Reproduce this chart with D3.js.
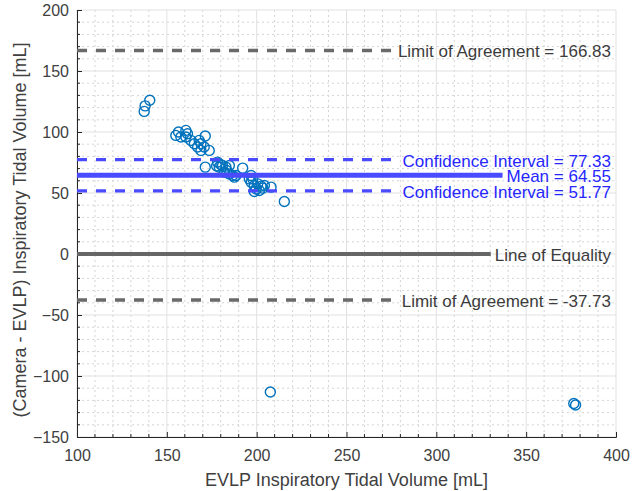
<!DOCTYPE html>
<html>
<head>
<meta charset="utf-8">
<script src="https://cdn.jsdelivr.net/npm/d3@7"></script>
<style>
  body { margin: 0; background: #fff; }
  svg { display: block; }
  text { font-family: "Liberation Sans", Arial, Helvetica, sans-serif; }
</style>
</head>
<body>
<svg id="chart" width="640" height="491"></svg>
<script>
// Bland-Altman style comparison: EVLP volume vs. (Camera - EVLP) difference
const evlpVolume = [
  140.5, 137.9, 137.4,
  155.0, 156.5, 160.6, 160.6, 163.4, 165.3, 168.0, 171.4, 167.1, 169.0, 173.6,
  157.8, 161.5, 169.0, 170.8,
  171.4, 178.2, 180.1, 179.2, 181.0, 182.9, 184.8, 182.0, 184.8, 186.6, 188.5, 192.2,
  177.7, 183.3, 187.6,
  196.9, 197.8, 196.9, 198.7, 200.6, 199.7, 202.5, 204.3, 208.0, 198.7, 195.9, 201.5, 203.4,
  215.4,
  207.6, 376.5, 377.5
];
const volumeDiff = [
  126.0, 121.4, 116.9,
  97.2, 100.0, 101.3, 95.9, 93.1, 90.4, 93.1, 96.7, 87.7, 84.9, 84.9,
  95.9, 98.6, 90.4, 87.7,
  71.2, 75.3, 73.1, 71.2, 72.6, 71.2, 72.6, 67.1, 65.7, 64.3, 64.3, 70.4,
  72.1, 68.4, 63.0,
  64.3, 61.6, 58.9, 56.1, 57.5, 53.4, 55.6, 56.1, 54.8, 51.2, 61.6, 52.0, 54.0,
  43.0,
  -113.1, -122.5, -123.8
];

// Reference lines drawn across the plot with their right-hand labels
const refValues = [166.83, 77.33, 64.55, 51.77, 0, -37.73];
const refLabels = [
  "Limit of Agreement = 166.83",
  "Confidence Interval = 77.33",
  "Mean = 64.55",
  "Confidence Interval = 51.77",
  "Line of Equality",
  "Limit of Agreement = -37.73"
];
const refKinds = ["limit", "ci", "mean", "ci", "equality", "limit"];

const xTickValues = [100, 150, 200, 250, 300, 350, 400];
const yTickValues = [-150, -100, -50, 0, 50, 100, 150, 200];
const xLabel = "EVLP Inspiratory Tidal Volume [mL]";
const yLabel = "(Camera - EVLP) Inspiratory Tidal Volume [mL]";

const kindStyle = {
  limit:    { stroke: "#6a6a6a", width: 3.5, dash: "10,9", text: "#3c3c3c" },
  ci:       { stroke: "#4a4aff", width: 3.3, dash: "10,9", text: "#2626ff" },
  mean:     { stroke: "#4a4aff", width: 5,   dash: null,   text: "#2626ff" },
  equality: { stroke: "#666666", width: 4,   dash: null,   text: "#3c3c3c" }
};

const svg = d3.select("#chart");
const plot = { left: 77, right: 616, top: 10, bottom: 437 };

const x = d3.scaleLinear().domain([100, 400]).range([plot.left, plot.right]);
const y = d3.scaleLinear().domain([-150, 200]).range([plot.bottom, plot.top]);

const xMinor = d3.range(100, 401, 10);
const yMinor = d3.range(-150, 201, 10);

// minor grid (dotted)
const grid = svg.append("g");
grid.selectAll("line.xm").data(xMinor.filter(v => v % 50 !== 0)).join("line")
  .attr("x1", d => x(d)).attr("x2", d => x(d))
  .attr("y1", plot.top).attr("y2", plot.bottom)
  .attr("stroke", "#d4d4d4").attr("stroke-width", 1).attr("stroke-dasharray", "2,3");
grid.selectAll("line.ym").data(yMinor.filter(v => v % 50 !== 0)).join("line")
  .attr("y1", d => y(d)).attr("y2", d => y(d))
  .attr("x1", plot.left).attr("x2", plot.right)
  .attr("stroke", "#d4d4d4").attr("stroke-width", 1).attr("stroke-dasharray", "2,3");

// major grid (solid)
grid.selectAll("line.xM").data(xTickValues).join("line")
  .attr("x1", d => x(d)).attr("x2", d => x(d))
  .attr("y1", plot.top).attr("y2", plot.bottom)
  .attr("stroke", "#e1e1e1").attr("stroke-width", 1);
grid.selectAll("line.yM").data(yTickValues).join("line")
  .attr("y1", d => y(d)).attr("y2", d => y(d))
  .attr("x1", plot.left).attr("x2", plot.right)
  .attr("stroke", "#e1e1e1").attr("stroke-width", 1);

// axes with inward ticks
const axisColor = "#262626";
const xAxis = svg.append("g").attr("transform", `translate(0,${plot.bottom})`)
  .call(d3.axisBottom(x).tickValues(xTickValues).tickSize(-5).tickPadding(13).tickFormat(d3.format("d")));
const yAxis = svg.append("g").attr("transform", `translate(${plot.left},0)`)
  .call(d3.axisLeft(y).tickValues(yTickValues).tickSize(-5).tickPadding(8).tickFormat(d3.format("d")));
[xAxis, yAxis].forEach(g => {
  g.select(".domain").attr("stroke", axisColor).attr("stroke-width", 1);
  g.selectAll(".tick line").attr("stroke", axisColor);
  g.selectAll(".tick text").attr("fill", "#404040").attr("font-size", 16)
    .attr("font-family", "'Liberation Sans', Arial, Helvetica, sans-serif");
});
yAxis.selectAll(".tick text").attr("dy", "0.35em");

// minor tick marks
svg.append("g").selectAll("line").data(xMinor.filter(v => v % 50 !== 0)).join("line")
  .attr("x1", d => x(d)).attr("x2", d => x(d))
  .attr("y1", plot.bottom).attr("y2", plot.bottom - 3)
  .attr("stroke", axisColor);
svg.append("g").selectAll("line").data(yMinor.filter(v => v % 50 !== 0)).join("line")
  .attr("y1", d => y(d)).attr("y2", d => y(d))
  .attr("x1", plot.left).attr("x2", plot.left + 3)
  .attr("stroke", axisColor);

// data points (open circles)
const points = evlpVolume.map((v, i) => ({ x: v, y: volumeDiff[i] }));
svg.append("g").selectAll("circle").data(points).join("circle")
  .attr("cx", d => x(d.x)).attr("cy", d => y(d.y)).attr("r", 5)
  .attr("fill", "none").attr("stroke", "#0072BD").attr("stroke-width", 1.4);

// reference lines + labels (right-aligned, line stops before its label)
const labelRight = 611;
const refs = svg.append("g");
refValues.forEach((v, i) => {
  const st = kindStyle[refKinds[i]];
  const t = refs.append("text")
    .attr("x", labelRight).attr("y", y(v) + 1.5)
    .attr("text-anchor", "end").attr("dominant-baseline", "central")
    .attr("font-size", 17).attr("fill", st.text)
    .text(refLabels[i]);
  const w = t.node().getComputedTextLength();
  const ln = refs.insert("line", "text")
    .attr("x1", plot.left).attr("x2", labelRight - w - 4)
    .attr("y1", y(v)).attr("y2", y(v))
    .attr("stroke", st.stroke).attr("stroke-width", st.width);
  if (st.dash) ln.attr("stroke-dasharray", st.dash);
});

// axis titles
svg.append("text")
  .attr("x", (plot.left + plot.right) / 2).attr("y", 486)
  .attr("text-anchor", "middle").attr("font-size", 18).attr("fill", "#404040")
  .text(xLabel);
svg.append("text")
  .attr("transform", `translate(26,230) rotate(-90)`)
  .attr("text-anchor", "middle").attr("font-size", 18).attr("fill", "#404040")
  .text(yLabel);
</script>
</body>
</html>
